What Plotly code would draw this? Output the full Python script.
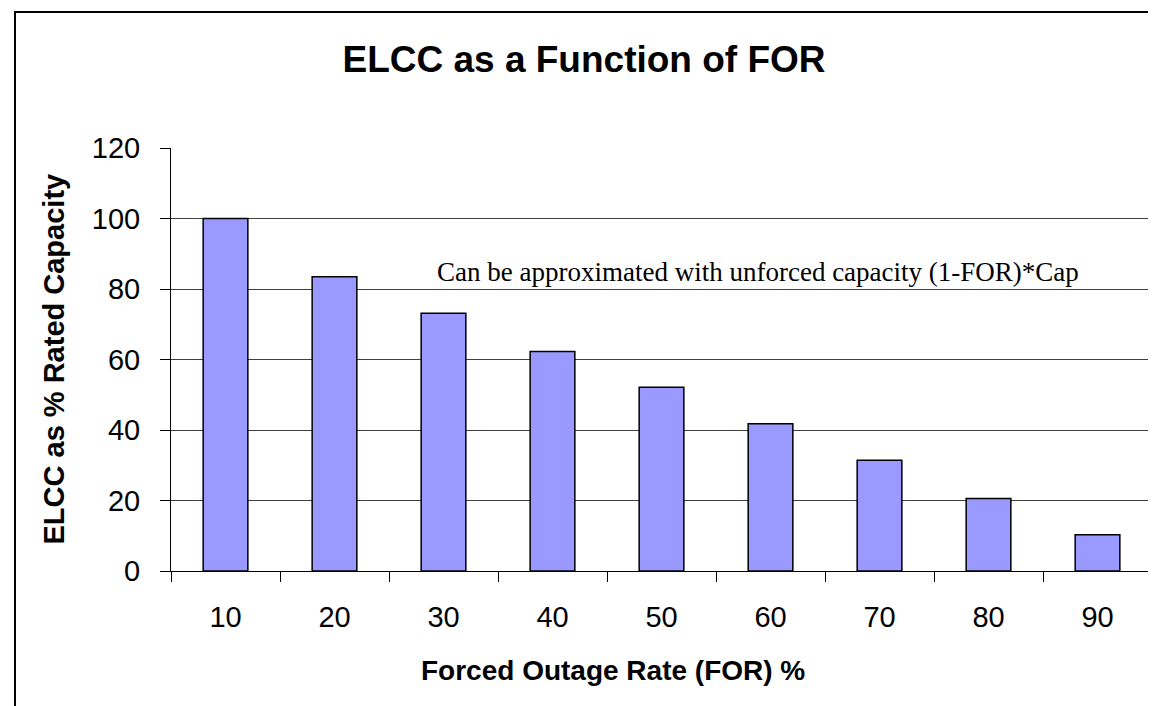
import plotly.graph_objects as go

# FOR categories and ELCC values
for_pct = ["10", "20", "30", "40", "50", "60", "70", "80", "90"]
elcc_pct = [100, 83.5, 73.1, 62.3, 52.1, 41.8, 31.4, 20.6, 10.3]
y_ticks = [0, 20, 40, 60, 80, 100, 120]

W, H = 1156, 706
L, R, T, B = 163, 12, 140, 143
pw, ph = W - L - R, H - T - B


def px_x(p):
    # pixel x -> paper x
    return (p - L) / pw


def px_y(p):
    # pixel y -> paper y
    return (H - B - p) / ph


fig = go.Figure()
fig.add_trace(go.Bar(
    x=for_pct,
    y=elcc_pct,
    marker=dict(color="#9999FF", line=dict(color="black", width=1.5)),
    showlegend=False,
))

fig.update_layout(
    width=W, height=H,
    margin=dict(l=L, r=R, t=T, b=B),
    paper_bgcolor="white",
    plot_bgcolor="white",
    bargap=0.59,
    font=dict(family="Liberation Sans, Arial, sans-serif", color="black"),
    title=dict(
        text="<b>ELCC as a Function of FOR</b>",
        font=dict(size=37, color="black"),
        x=576 / W, xanchor="center",
        y=1 - 51 / H, yanchor="middle",
    ),
)

fig.update_xaxes(
    type="category",
    tickson="boundaries",
    ticks="outside", ticklen=10, tickcolor="black", tickwidth=1,
    tickfont=dict(size=29),
    ticklabelstandoff=20,
    showline=True, linecolor="black", linewidth=1,
    showgrid=False,
)
fig.update_yaxes(
    range=[0, 120],
    tickvals=y_ticks,
    ticks="outside", ticklen=10, tickcolor="black", tickwidth=1,
    tickfont=dict(size=29),
    ticklabelstandoff=14,
    showline=True, linecolor="black", linewidth=1,
    showgrid=True, gridcolor="#404040", gridwidth=1,
    zeroline=False,
)

# axis titles
fig.add_annotation(
    text="<b>Forced Outage Rate (FOR) %</b>",
    xref="paper", yref="paper", x=px_x(605), y=px_y(662),
    xanchor="center", yanchor="middle", showarrow=False,
    font=dict(size=28),
)
fig.add_annotation(
    text="<b>ELCC as % Rated Capacity</b>",
    xref="paper", yref="paper", x=px_x(45), y=0.5,
    xanchor="center", yanchor="middle", showarrow=False, textangle=-90,
    font=dict(size=29),
)

# note inside the plot
fig.add_annotation(
    text="Can be approximated with unforced capacity (1-FOR)*Cap",
    xref="paper", yref="y", x=px_x(750), y=84.8,
    xanchor="center", yanchor="middle", showarrow=False,
    font=dict(family="Liberation Serif, Times New Roman, serif", size=27),
)

# right edge of plot area
fig.add_shape(type="line", xref="paper", yref="paper", x0=1, x1=1, y0=0, y1=1,
              line=dict(color="#808080", width=1))
# outer chart border
fig.add_shape(type="rect", xref="paper", yref="paper",
              x0=px_x(7), x1=px_x(W + 10), y0=px_y(H + 10), y1=px_y(4),
              line=dict(color="black", width=2))

fig.write_html("out.html")
